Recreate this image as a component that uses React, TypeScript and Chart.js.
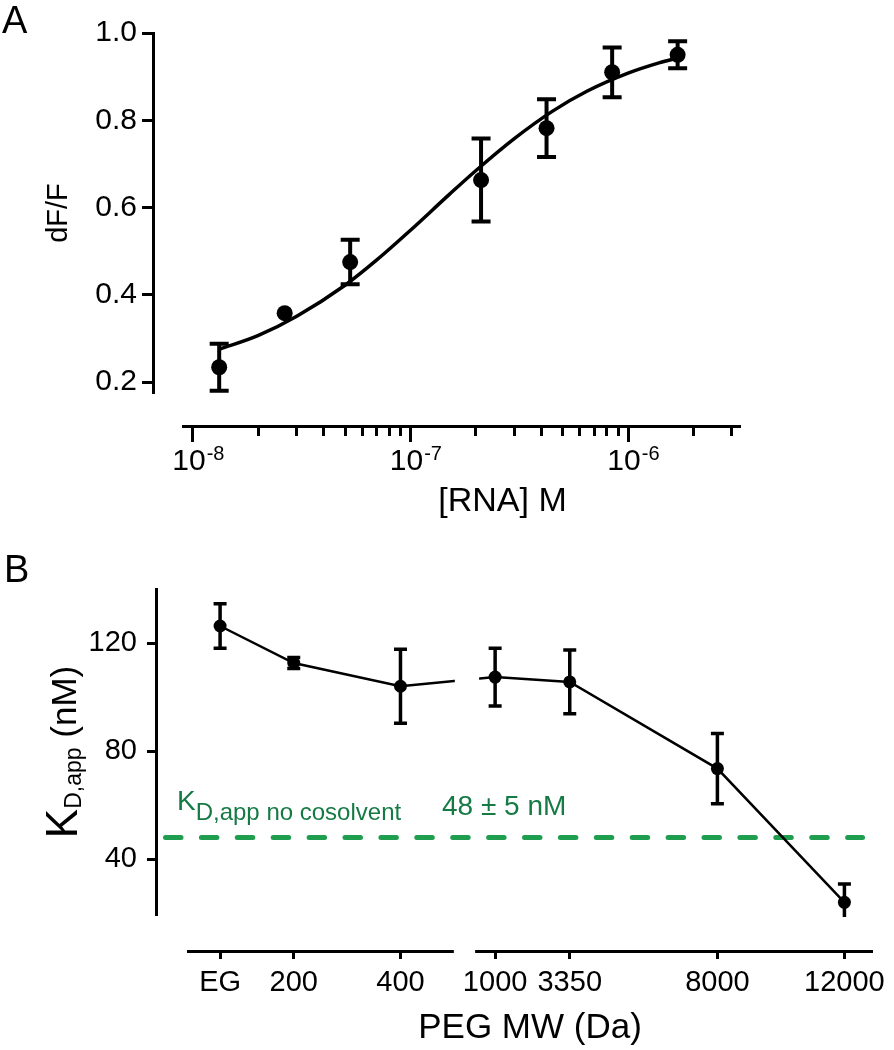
import React, { useEffect, useRef } from 'react';
import { Chart, registerables, LinearScale } from 'chart.js';

Chart.register(...registerables);

const FONT = "'Liberation Sans', Arial, Helvetica, sans-serif";
const INK = '#000000';
const TEXT_GREEN = '#167a45';
const DASH_GREEN = '#1f9e4f';

// ---------- Panel A data ----------
const RNA_CONC = [1.32e-8, 2.64e-8, 5.28e-8, 2.11e-7, 4.22e-7, 8.45e-7, 1.69e-6];
const DFF = [0.234, 0.358, 0.475, 0.663, 0.782, 0.91, 0.95];
const DFF_ERR = [0.054, 0, 0.051, 0.095, 0.066, 0.057, 0.031];
const FIT_CONC = [1.32e-8, 2e-8, 3e-8, 5e-8, 7e-8, 1e-7, 1.5e-7, 2e-7, 3e-7, 4.5e-7, 6.5e-7, 1e-6, 1.4e-6, 1.69e-6];
const FIT_DFF = [0.275, 0.307, 0.351, 0.422, 0.48, 0.548, 0.629, 0.685, 0.758, 0.821, 0.867, 0.908, 0.932, 0.943];
const A_Y_TICKS = [0.2, 0.4, 0.6, 0.8, 1.0];
const A_X_MAJOR = [1e-8, 1e-7, 1e-6];
const A_X_MAJOR_BASE = ['10', '10', '10'];
const A_X_MAJOR_EXP = ['-8', '-7', '-6'];
const A_X_MINOR = [2e-8, 3e-8, 4e-8, 5e-8, 6e-8, 7e-8, 8e-8, 9e-8, 2e-7, 3e-7, 4e-7, 5e-7, 6e-7, 7e-7, 8e-7, 9e-7, 2e-6, 3e-6];
const A_X_MIN = 9.1e-9;
const A_X_MAX = 3.27e-6;
const A_Y_MIN = 0.175;
const A_Y_MAX = 1.0;

// ---------- Panel B data ----------
const PEG_MW = [62, 200, 400, 1000, 3350, 8000, 12000];
const B_X_LABELS = ['EG', '200', '400', '1000', '3350', '8000', '12000'];
const KD_APP = [126.3, 112.6, 104, 107.4, 105.6, 73.5, 24];
const KD_ERR = [8.2, 2.0, 13.7, 10.7, 11.8, 13, 6.8];
const KD_NO_COSOLVENT = 48;
const B_Y_TICKS = [40, 80, 120];
const B_Y_MIN = 19.3;
const B_Y_MAX = 140;
// broken x axis: value ranges and their share of the axis length
const BREAK_SEGMENTS = [
  { from: 0, to: 500, start: 0, end: 0.389 },
  { from: 370, to: 12900, start: 0.42, end: 1 },
];

class BrokenLinearScale extends (LinearScale as any) {
  static id = 'brokenLinear';
  getPixelForValue(value: any) {
    if (value === null || value === undefined || isNaN(value)) return NaN;
    const seg = BREAK_SEGMENTS.find((s) => value <= s.to) || BREAK_SEGMENTS[BREAK_SEGMENTS.length - 1];
    const t = (value - seg.from) / (seg.to - seg.from);
    return (this as any).getPixelForDecimal(seg.start + t * (seg.end - seg.start));
  }
  getValueForPixel(pixel: number) {
    const d = (this as any).getDecimalForPixel(pixel);
    for (const s of BREAK_SEGMENTS) {
      if (d <= s.end) {
        const t = (Math.max(d, s.start) - s.start) / (s.end - s.start);
        return s.from + t * (s.to - s.from);
      }
    }
    const last = BREAK_SEGMENTS[BREAK_SEGMENTS.length - 1];
    return last.to;
  }
  drawBorder() {
    const self = this as any;
    const ctx = self.ctx;
    ctx.save();
    ctx.lineWidth = 3;
    ctx.strokeStyle = INK;
    ctx.lineCap = 'butt';
    ctx.beginPath();
    for (const s of BREAK_SEGMENTS) {
      ctx.moveTo(self.getPixelForDecimal(s.start), self.top + 1.5);
      ctx.lineTo(self.getPixelForDecimal(s.end), self.top + 1.5);
    }
    ctx.stroke();
    ctx.restore();
  }
}
Chart.register(BrokenLinearScale as any);

Chart.defaults.font.family = FONT;
Chart.defaults.color = INK;

// move axes away from the plot area (offset axes)
function axisShift(shifts: Record<string, number>) {
  return {
    id: 'axisShift',
    afterLayout(chart: any) {
      const area = chart.chartArea;
      Object.keys(shifts).forEach((id) => {
        const s = chart.scales[id];
        if (!s) return;
        const off = shifts[id];
        if (s.isHorizontal()) {
          const h = s.bottom - s.top;
          s.top = area.bottom + off;
          s.bottom = s.top + h;
        } else {
          const w = s.right - s.left;
          s.right = area.left - off;
          s.left = s.right - w;
        }
      });
    },
  };
}

function errorBars(xs: number[], ys: number[], errs: number[], width: number, half: number, clipToArea: boolean) {
  return {
    id: 'errorBars',
    beforeDatasetsDraw(chart: any) {
      const xS = chart.scales.x;
      const yS = chart.scales.y;
      const ctx = chart.ctx;
      const area = chart.chartArea;
      ctx.save();
      if (clipToArea) {
        ctx.beginPath();
        ctx.rect(0, area.top - 2, chart.width, area.bottom - area.top + 4);
        ctx.clip();
      }
      ctx.strokeStyle = INK;
      ctx.lineWidth = width;
      ctx.lineCap = 'butt';
      xs.forEach((xv, i) => {
        if (!errs[i]) return;
        const px = xS.getPixelForValue(xv);
        const top = yS.getPixelForValue(ys[i] + errs[i]);
        const bot = yS.getPixelForValue(ys[i] - errs[i]);
        ctx.beginPath();
        ctx.moveTo(px, top);
        ctx.lineTo(px, bot);
        ctx.moveTo(px - half, top);
        ctx.lineTo(px + half, top);
        ctx.moveTo(px - half, bot);
        ctx.lineTo(px + half, bot);
        ctx.stroke();
      });
      ctx.restore();
    },
  };
}

function tickConfig(size: number, padding: number, callback: any, labelOffset = 0) {
  return { font: { family: FONT, size }, color: INK, padding, callback, labelOffset, autoSkip: false, maxRotation: 0, minRotation: 0 };
}

export default function App() {
  const refA = useRef<HTMLCanvasElement>(null);
  const refB = useRef<HTMLCanvasElement>(null);

  useEffect(() => {
    const textA = {
      id: 'textA',
      afterDraw(chart: any) {
        const ctx = chart.ctx;
        const area = chart.chartArea;
        const xs = chart.scales.x;
        ctx.save();
        ctx.fillStyle = INK;
        ctx.font = `38px ${FONT}`;
        ctx.textBaseline = 'alphabetic';
        ctx.textAlign = 'left';
        ctx.fillText('A', 2, 33);

        // exponents of the decade labels
        ctx.font = `30px ${FONT}`;
        const baseW = ctx.measureText('10').width;
        ctx.font = `20px ${FONT}`;
        A_X_MAJOR.forEach((v, i) => {
          const px = xs.getPixelForValue(v) - 4;
          ctx.fillText(A_X_MAJOR_EXP[i], px + baseW / 2 + 1, xs.top + 34);
        });

        ctx.font = `34px ${FONT}`;
        ctx.textAlign = 'center';
        ctx.textBaseline = 'middle';
        ctx.fillText('[RNA] M', (area.left + area.right) / 2 + 41, 502);
        ctx.restore();
      },
    };

    const chartA = new Chart(refA.current as any, {
      type: 'scatter',
      data: {
        datasets: [
          {
            label: 'fit',
            data: FIT_CONC.map((x, i) => ({ x, y: FIT_DFF[i] })),
            showLine: true,
            borderColor: INK,
            borderWidth: 3.5,
            pointRadius: 0,
            cubicInterpolationMode: 'monotone',
            fill: false,
            clip: false,
          } as any,
          {
            label: 'dF/F',
            data: RNA_CONC.map((x, i) => ({ x, y: DFF[i] })),
            showLine: false,
            pointRadius: 8,
            pointBackgroundColor: INK,
            pointBorderWidth: 0,
            clip: false,
          } as any,
        ],
      },
      options: {
        animation: false,
        responsive: false,
        events: [],
        layout: { padding: { left: 72, right: 154, top: 33, bottom: 37 } },
        plugins: { legend: { display: false }, tooltip: { enabled: false } },
        scales: {
          x: {
            type: 'logarithmic',
            min: A_X_MIN,
            max: A_X_MAX,
            position: 'bottom',
            afterBuildTicks: (s: any) => { s.ticks = A_X_MAJOR.map((value) => ({ value, major: true })); },
            afterFit: (s: any) => { s.height = 90; s.paddingLeft = 0; s.paddingRight = 0; },
            grid: { display: true, drawOnChartArea: false, drawTicks: true, tickLength: 16, tickWidth: 3, tickColor: INK },
            border: { display: true, color: INK, width: 3 },
            ticks: tickConfig(30, 2, (_v: any, i: number) => A_X_MAJOR_BASE[i], -4),
          },
          xMinor: {
            type: 'logarithmic',
            axis: 'x',
            min: A_X_MIN,
            max: A_X_MAX,
            position: 'bottom',
            afterBuildTicks: (s: any) => { s.ticks = A_X_MINOR.map((value) => ({ value })); },
            afterFit: (s: any) => { s.height = 10; s.paddingLeft = 0; s.paddingRight = 0; },
            grid: { display: true, drawOnChartArea: false, drawTicks: true, tickLength: 10, tickWidth: 3, tickColor: INK },
            border: { display: false },
            ticks: { display: false },
          },
          y: {
            type: 'linear',
            min: A_Y_MIN,
            max: A_Y_MAX,
            position: 'left',
            afterBuildTicks: (s: any) => { s.ticks = A_Y_TICKS.map((value) => ({ value })); },
            afterFit: (s: any) => { s.width = 111; s.paddingTop = 0; s.paddingBottom = 0; },
            grid: { display: true, drawOnChartArea: false, drawTicks: true, tickLength: 11, tickWidth: 3, tickColor: INK },
            border: { display: true, color: INK, width: 3 },
            ticks: tickConfig(30, 5, (v: any) => Number(v).toFixed(1)),
            title: { display: true, text: 'dF/F', font: { family: FONT, size: 29 }, color: INK, padding: 0 },
          },
        } as any,
      },
      plugins: [axisShift({ x: 33, xMinor: 33, y: 30 }), errorBars(RNA_CONC, DFF, DFF_ERR, 4, 9.5, false), textA],
    } as any);

    const gapClip = {
      id: 'gapClip',
      beforeDatasetDraw(chart: any, args: any) {
        if (args.index !== 0) return;
        const xs = chart.scales.x;
        const g0 = xs.getPixelForDecimal(BREAK_SEGMENTS[0].end) + 1;
        const g1 = xs.getPixelForDecimal(BREAK_SEGMENTS[1].start) + 4;
        const ctx = chart.ctx;
        ctx.save();
        ctx.beginPath();
        ctx.rect(0, 0, g0, chart.height);
        ctx.rect(g1, 0, chart.width - g1, chart.height);
        ctx.clip();
      },
      afterDatasetDraw(chart: any, args: any) {
        if (args.index !== 0) return;
        chart.ctx.restore();
      },
    };

    const baselineB = {
      id: 'baselineB',
      beforeDatasetsDraw(chart: any) {
        const ctx = chart.ctx;
        const area = chart.chartArea;
        const y = chart.scales.y.getPixelForValue(KD_NO_COSOLVENT);
        ctx.save();
        ctx.strokeStyle = DASH_GREEN;
        ctx.lineWidth = 5;
        ctx.lineCap = 'round';
        ctx.setLineDash([15.5, 20.4]);
        ctx.beginPath();
        ctx.moveTo(area.left - 24 + 2.5, y);
        ctx.lineTo(area.right - 8 - 2.5, y);
        ctx.stroke();
        ctx.restore();
      },
    };

    const textB = {
      id: 'textB',
      afterDraw(chart: any) {
        const ctx = chart.ctx;
        const area = chart.chartArea;
        const lineY = chart.scales.y.getPixelForValue(KD_NO_COSOLVENT);
        ctx.save();
        ctx.textBaseline = 'alphabetic';
        ctx.textAlign = 'left';
        ctx.fillStyle = INK;
        ctx.font = `38px ${FONT}`;
        ctx.fillText('B', 4, 52);

        // y-axis title with subscript, rotated
        const parts = [
          { text: 'K', size: 44, dy: 0 },
          { text: 'D,app', size: 23, dy: 4 },
          { text: ' (nM)', size: 35, dy: -1 },
        ];
        ctx.save();
        ctx.translate(77, (area.top + area.bottom) / 2);
        ctx.rotate(-Math.PI / 2);
        let total = 0;
        parts.forEach((p) => { ctx.font = `${p.size}px ${FONT}`; total += ctx.measureText(p.text).width; });
        let x = -total / 2;
        parts.forEach((p) => {
          ctx.font = `${p.size}px ${FONT}`;
          ctx.fillText(p.text, x, p.dy);
          x += ctx.measureText(p.text).width;
        });
        ctx.restore();

        // annotation
        ctx.fillStyle = TEXT_GREEN;
        const kx = area.left - 10;
        ctx.font = `28px ${FONT}`;
        ctx.fillText('K', kx, lineY - 27);
        const kw = ctx.measureText('K').width;
        ctx.font = `24px ${FONT}`;
        ctx.fillText('D,app no cosolvent', kx + kw, lineY - 17);
        ctx.font = `28px ${FONT}`;
        ctx.fillText('48 ± 5 nM', area.left + 255, lineY - 22);
        ctx.restore();
      },
    };

    const chartB = new Chart(refB.current as any, {
      type: 'scatter',
      data: {
        datasets: [
          {
            label: 'KD,app',
            data: PEG_MW.map((x, i) => ({ x, y: KD_APP[i] })),
            showLine: true,
            borderColor: INK,
            borderWidth: 2.5,
            pointRadius: 6.5,
            pointBackgroundColor: INK,
            pointBorderWidth: 0,
            tension: 0,
            clip: false,
          } as any,
        ],
      },
      options: {
        animation: false,
        responsive: false,
        events: [],
        layout: { padding: { left: 80, right: 21, top: 59, bottom: 36 } },
        plugins: { legend: { display: false }, tooltip: { enabled: false } },
        scales: {
          x: {
            type: 'brokenLinear',
            min: 0,
            max: 12900,
            position: 'bottom',
            afterBuildTicks: (s: any) => { s.ticks = PEG_MW.map((value) => ({ value })); },
            afterFit: (s: any) => { s.height = 99; s.paddingLeft = 0; s.paddingRight = 0; },
            grid: { display: true, drawOnChartArea: false, drawTicks: true, tickLength: 9, tickWidth: 3, tickColor: INK },
            border: { display: true, color: INK, width: 3 },
            ticks: tickConfig(29, 7, (_v: any, i: number) => B_X_LABELS[i]),
            title: { display: true, text: 'PEG MW (Da)', font: { family: FONT, size: 35 }, color: INK, padding: 0 },
          },
          y: {
            type: 'linear',
            min: B_Y_MIN,
            max: B_Y_MAX,
            position: 'left',
            afterBuildTicks: (s: any) => { s.ticks = B_Y_TICKS.map((value) => ({ value })); },
            afterFit: (s: any) => { s.width = 107; s.paddingTop = 0; s.paddingBottom = 0; },
            grid: { display: true, drawOnChartArea: false, drawTicks: true, tickLength: 9, tickWidth: 3, tickColor: INK },
            border: { display: true, color: INK, width: 3 },
            ticks: tickConfig(29, 10, (v: any) => String(v)),
          },
        } as any,
      },
      plugins: [axisShift({ x: 35, y: 31 }), baselineB, errorBars(PEG_MW, KD_APP, KD_ERR, 3.5, 6.5, true), gapClip, textB],
    } as any);

    return () => {
      chartA.destroy();
      chartB.destroy();
    };
  }, []);

  return (
    <div style={{ position: 'absolute', left: 0, top: 0, width: 894, height: 1050, background: '#ffffff' }}>
      <canvas ref={refA} width={894} height={530} style={{ position: 'absolute', left: 0, top: 0, width: 894, height: 530 }} />
      <canvas ref={refB} width={894} height={520} style={{ position: 'absolute', left: 0, top: 530, width: 894, height: 520 }} />
    </div>
  );
}
